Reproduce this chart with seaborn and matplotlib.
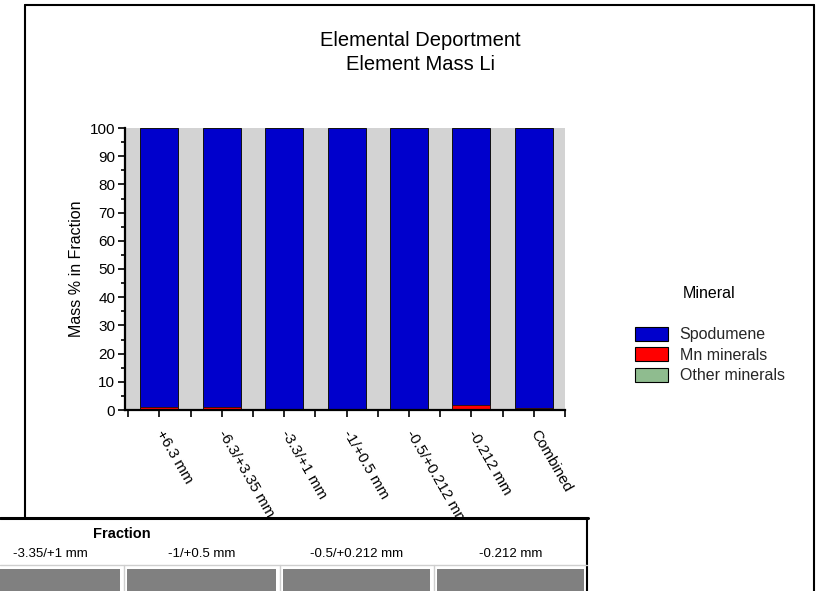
import numpy as np
import pandas as pd
import matplotlib
matplotlib.use("Agg")
import matplotlib.pyplot as plt
import seaborn as sns
from matplotlib.patches import Patch, Rectangle
from matplotlib.lines import Line2D
from matplotlib.ticker import MultipleLocator, FixedLocator

# ---------------- data ----------------
fractions = ["+6.3 mm", "-6.3/+3.35 mm", "-3.3/+1 mm", "-1/+0.5 mm",
             "-0.5/+0.212 mm", "-0.212 mm", "Combined"]
spodumene = [99.0, 99.0, 99.9, 99.8, 99.5, 98.2, 99.4]
mn_minerals = [1.0, 1.0, 0.1, 0.2, 0.5, 1.8, 0.6]
other_minerals = [0.0, 0.0, 0.0, 0.0, 0.0, 0.0, 0.0]
minerals = ["Spodumene", "Mn minerals", "Other minerals"]
colors = ["#0000CC", "#FF0000", "#8FBC8F"]
yticks = list(range(0, 101, 10))
table_title = "Fraction"
table_columns = ["-3.35/+1 mm", "-1/+0.5 mm", "-0.5/+0.212 mm", "-0.212 mm"]

# ---------------- style ----------------
sns.set_theme(style="white")
plt.rcParams['font.family'] = ['Liberation Sans', 'DejaVu Sans']

W, H = 823, 591
fig = plt.figure(figsize=(W / 100, H / 100), dpi=100)
fig.patch.set_facecolor("white")

def fx(px):
    return px / W

def fy(py):
    return 1 - py / H

ax = fig.add_axes([fx(125), fy(410), fx(565) - fx(125), fy(128) - fy(410)])
ax.set_facecolor("#D3D3D3")

df = pd.DataFrame({
    "Fraction": fractions,
    "Spodumene": spodumene,
    "Mn minerals": mn_minerals,
    "Other minerals": other_minerals,
})
df["top_mn"] = df["Mn minerals"]
df["top_other"] = df["top_mn"] + df["Other minerals"]
df["top_spod"] = df["top_other"] + df["Spodumene"]

for col, c, lw in [("top_spod", colors[0], 0.7), ("top_other", colors[2], 0.5),
                   ("top_mn", colors[1], 0.5)]:
    sns.barplot(data=df, x="Fraction", y=col, order=fractions, color=c,
                saturation=1, width=0.61, edgecolor="#111111", linewidth=lw,
                errorbar=None, ax=ax)

ax.set_xlim(-0.55, 6.5)
ax.set_ylim(0, 100)
ax.set_yticks(yticks)
ax.yaxis.set_minor_locator(MultipleLocator(5))
ax.xaxis.set_minor_locator(FixedLocator(np.arange(-0.5, 6.6, 1.0)))
ax.set_xticks(range(len(fractions)))
ax.set_xticklabels(fractions, rotation=-60, ha="left", va="center",
                   rotation_mode="anchor", fontsize=11)
ax.tick_params(axis="y", labelsize=11)
ax.tick_params(which="both", bottom=True, left=True, direction="out",
               color="black", width=1.2, labelcolor="black")
ax.tick_params(axis="x", which="both", length=5, pad=10)
ax.tick_params(axis="y", which="major", length=5, pad=2)
ax.tick_params(axis="y", which="minor", length=3)
for s in ["top", "right"]:
    ax.spines[s].set_visible(False)
for s in ["left", "bottom"]:
    ax.spines[s].set_color("black")
    ax.spines[s].set_linewidth(1.6)
ax.set_xlabel("")
ax.set_ylabel("Mass % in Fraction", fontsize=11.5, color="black", labelpad=4)

# ---------------- titles ----------------
fig.text(fx(420), fy(41), "Elemental Deportment", ha="center", va="center",
         fontsize=14.5, color="black")
fig.text(fx(420), fy(64), "Element Mass Li", ha="center", va="center",
         fontsize=14.5, color="black")

# ---------------- legend ----------------
fig.text(fx(709), fy(294), "Mineral", ha="center", va="center", fontsize=11.5,
         color="black")
handles = [Patch(facecolor=c, edgecolor="black", linewidth=0.8) for c in colors]
fig.legend(handles, minerals, loc="upper left",
           bbox_to_anchor=(fx(635), fy(327)), frameon=False, fontsize=11.5,
           handlelength=2.05, handleheight=0.95, handletextpad=0.75,
           labelspacing=0.32, borderpad=0, borderaxespad=0)

# ---------------- frame ----------------
fig.add_artist(Line2D([fx(25), fx(25)], [fy(5), fy(518)], color="black", lw=1.5))
fig.add_artist(Line2D([fx(25), fx(814)], [fy(5), fy(5)], color="black", lw=1.5))
fig.add_artist(Line2D([fx(814), fx(814)], [fy(5), fy(591)], color="black", lw=1.5))

# ---------------- table (partial, bottom) ----------------
tab = fig.add_axes([0, 0, fx(588), (591 - 517) / H])
tab.set_zorder(10)
tab.set_facecolor("white")
tab.set_xlim(0, 588)
tab.set_ylim(74, 0)
tab.set_xticks([])
tab.set_yticks([])
for s in tab.spines.values():
    s.set_visible(False)
tab.plot([0, 588], [1, 1], color="black", lw=2.2, clip_on=False)
tab.plot([587, 587], [1, 74], color="black", lw=1.5, clip_on=False)
tab.plot([0, 587], [48, 48], color="#CFCFCF", lw=1.0)
tab_font = ["Liberation Sans Narrow", "Liberation Sans"]
tab.text(122, 17, table_title, ha="center", va="center", fontsize=10.5,
         fontweight="bold", color="black", family=tab_font)
cells = [(-30, 120), (127, 276), (283, 430), (437, 584)]
for (x0, x1), lab in zip(cells, table_columns):
    tab.add_patch(Rectangle((x0, 52), x1 - x0, 30, facecolor="#808080",
                            edgecolor="none"))
    cx = (x0 + x1) / 2 if x0 >= 0 else 50
    tab.text(cx, 37, lab, ha="center", va="center", fontsize=9.5,
             color="black", family=tab_font)
for xv in [123.5, 279.5, 433.5]:
    tab.plot([xv, xv], [48, 74], color="#CFCFCF", lw=1.0)

fig.savefig("out.png", dpi=100)
